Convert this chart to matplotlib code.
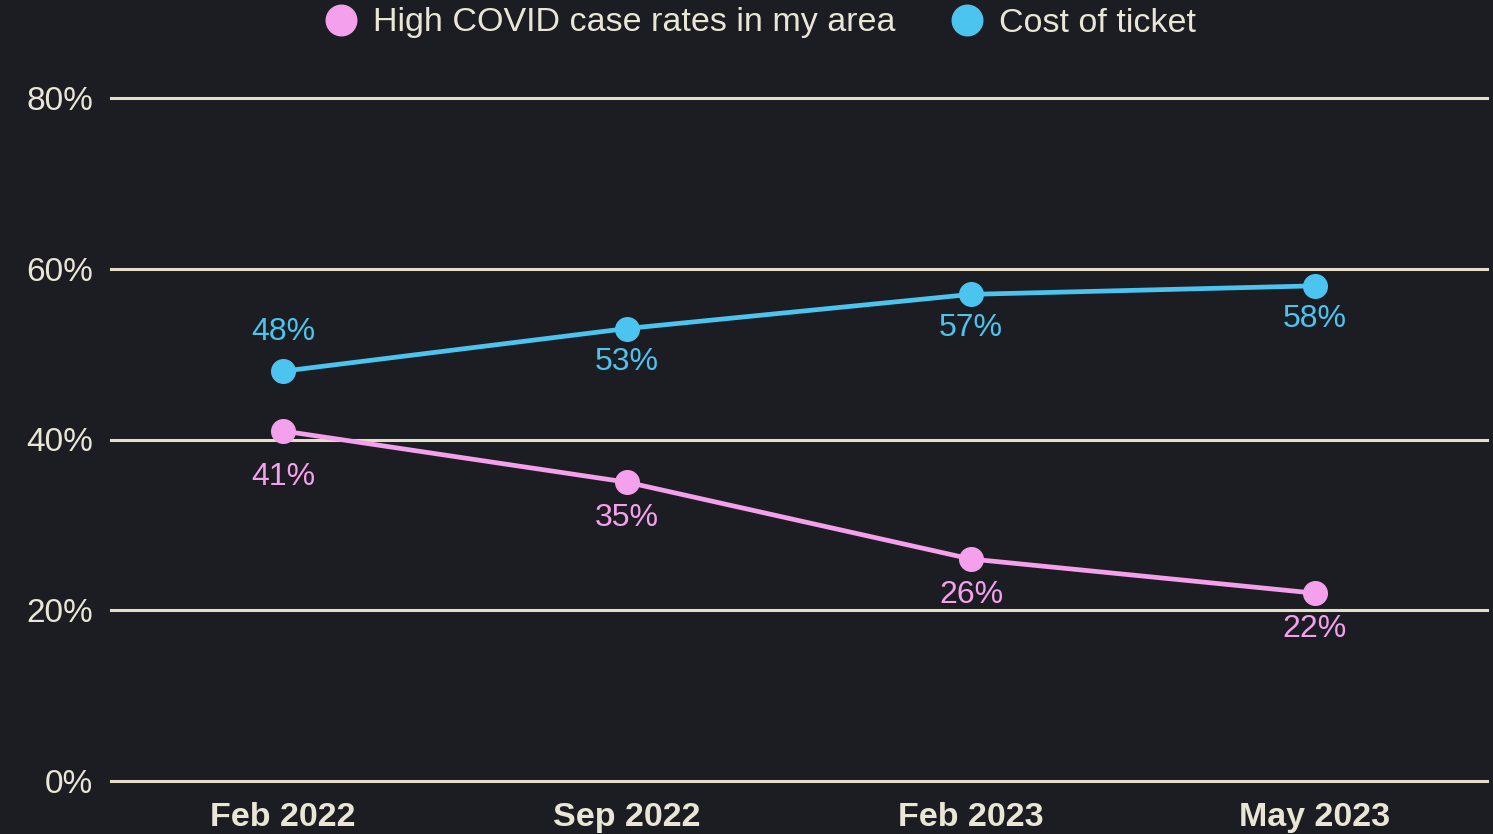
import matplotlib
matplotlib.use("Agg")
import matplotlib.pyplot as plt
from matplotlib.lines import Line2D

# ---- data ----
periods = ["Feb 2022", "Sep 2022", "Feb 2023", "May 2023"]
covid_rates = [41, 35, 26, 22]
ticket_cost = [48, 53, 57, 58]
series_names = ["High COVID case rates in my area", "Cost of ticket"]
y_ticks = [0, 20, 40, 60, 80]
y_tick_labels = ["0%", "20%", "40%", "60%", "80%"]

# ---- style ----
BG = "#1c1d22"
TXT = "#e9e6d6"
GRID = "#e4dfc6"
PINK = "#f5a0ec"
BLUE = "#4cc4f0"
FONT = ["Liberation Sans", "DejaVu Sans"]
plt.rcParams["font.family"] = FONT

fig = plt.figure(figsize=(14.93, 8.34), dpi=100, facecolor=BG)
ax = fig.add_axes([111/1493, 1-781/834, (1487-111)/1493, (781-98)/834])
ax.set_facecolor(BG)

x = list(range(len(periods)))
ax.set_xlim(-0.5, len(periods) - 0.5)
ax.set_ylim(0, 80)

for yv in y_ticks:
    ax.axhline(yv, color=GRID, lw=2.2, zorder=1, clip_on=False)

ax.plot(x, covid_rates, color=PINK, lw=3.4, marker="o", ms=17, zorder=3)
ax.plot(x, ticket_cost, color=BLUE, lw=3.4, marker="o", ms=17, zorder=3)

# value labels
for i, v in enumerate(covid_rates):
    off = -33 if i == 0 else -26
    ax.annotate(f"{v}%", (x[i], v), xytext=(0, off), textcoords="offset points",
                ha="center", va="center", color=PINK, fontsize=23)
for i, v in enumerate(ticket_cost):
    off = 28 if i == 0 else -24
    ax.annotate(f"{v}%", (x[i], v), xytext=(0, off), textcoords="offset points",
                ha="center", va="center", color=BLUE, fontsize=23)

ax.set_yticks(y_ticks)
ax.set_yticklabels(y_tick_labels, color=TXT, fontsize=24)
ax.set_xticks(x)
ax.set_xticklabels(periods, color=TXT, fontsize=24.5, fontweight="bold")
ax.tick_params(axis="y", length=0, pad=13)
ax.tick_params(axis="x", length=0, pad=15)
for s in ax.spines.values():
    s.set_visible(False)

handles = [
    Line2D([], [], color=PINK, marker="o", ls="none", ms=22),
    Line2D([], [], color=BLUE, marker="o", ls="none", ms=22),
]
fig.legend(handles, series_names, loc="center", bbox_to_anchor=(760/1493, 1-23/834),
           ncol=2, frameon=False, fontsize=24.5, labelcolor=TXT,
           handletextpad=0.45, columnspacing=1.6, handlelength=1.0)

fig.savefig("out.png", dpi=100, facecolor=BG)
